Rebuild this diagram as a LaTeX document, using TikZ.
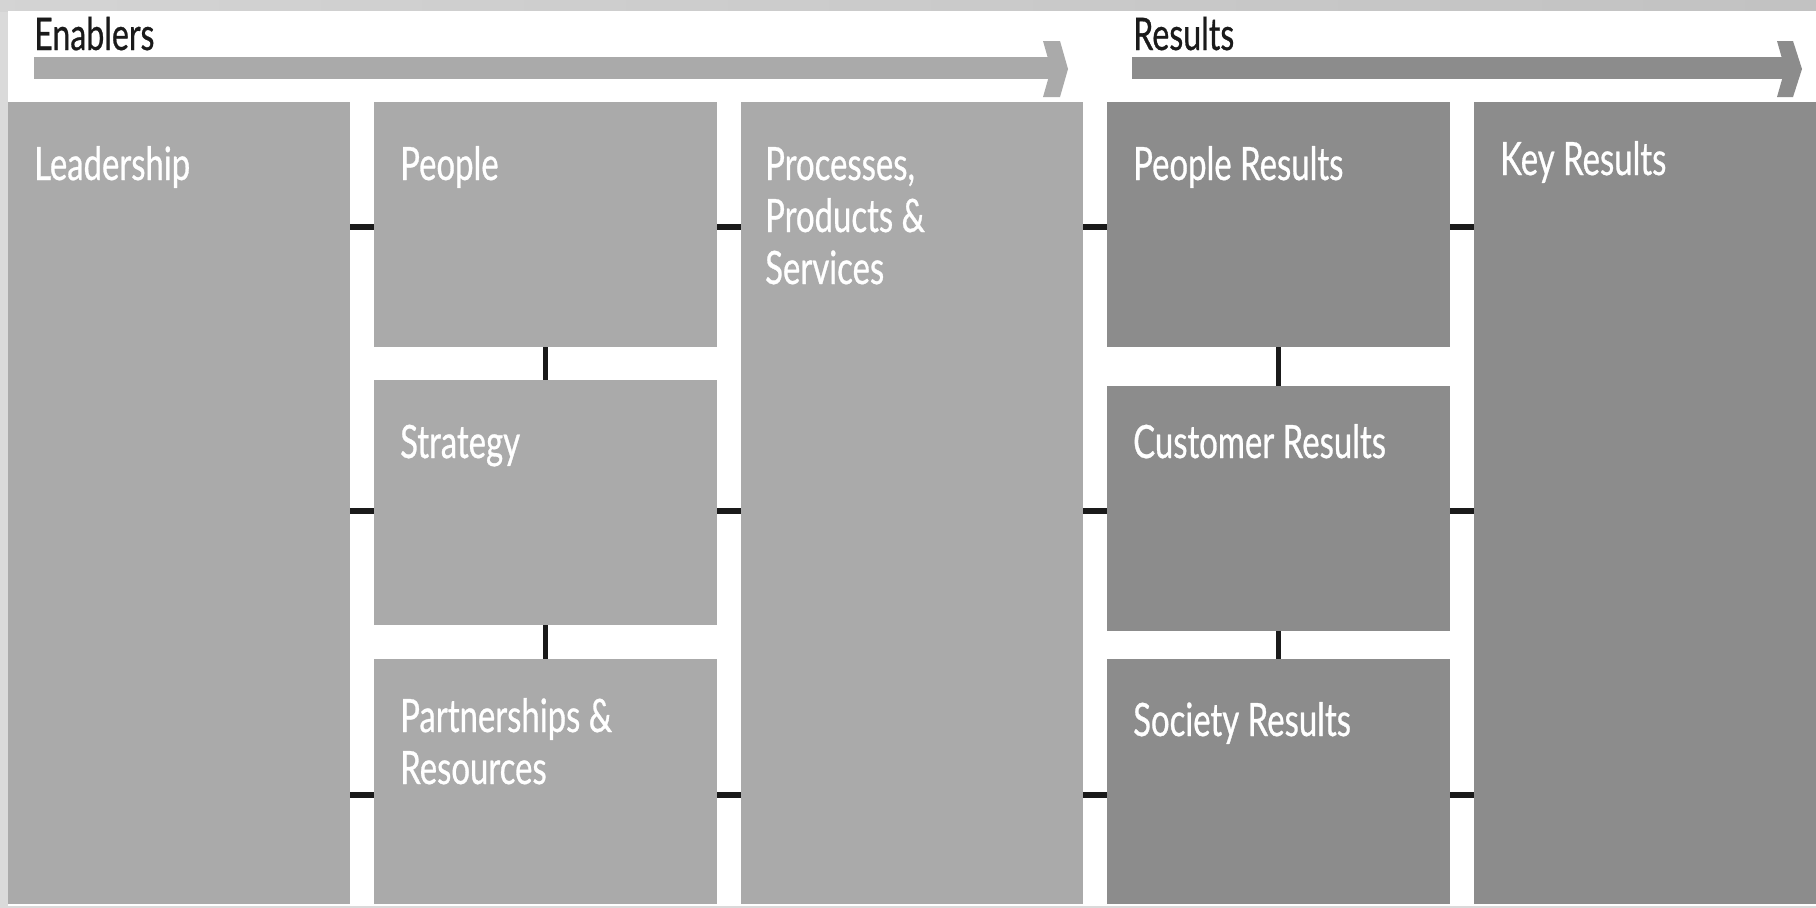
\documentclass[tikz,border=0pt]{standalone}
\usepackage{fontspec}
\newfontfamily\boxfont[FakeStretch=0.715, FakeBold=0.6]{Lato}
\definecolor{enab}{HTML}{AAAAAA}
\definecolor{resc}{HTML}{8C8C8C}
\definecolor{stubc}{HTML}{1A1A1A}
\definecolor{frame}{HTML}{DADADA}
\tikzset{
  ebox/.style={fill=enab, draw=none, anchor=north west, inner sep=0pt},
  rbox/.style={fill=resc, draw=none, anchor=north west, inner sep=0pt},
  boxtext/.style={anchor=base west, inner sep=0pt, text=white, align=left,
    font=\boxfont\fontsize{46}{52}\selectfont},
  headtext/.style={anchor=base west, inner sep=0pt, text=stubc,
    font=\boxfont\fontsize{45}{50}\selectfont},
  hstub/.style={draw=stubc, line width=6pt},
  vstub/.style={draw=stubc, line width=5pt},
}
\begin{document}
\begin{tikzpicture}[x=1pt,y=-1pt]
\useasboundingbox (0,0) rectangle (1816,908);
\fill[frame] (0,0) rectangle (1816,908);
\shade[left color=black!17, right color=black!24] (0,0) rectangle (1816,11);
\fill[white] (8,11) rectangle (1816,906);

% header arrows
\fill[enab] (34,57) rectangle (1054,79);
\fill[enab] (1043,41) -- (1060,41) -- (1068,69) -- (1060,97) -- (1043,97) -- (1051,69) -- cycle;
\fill[resc] (1132,57) rectangle (1788,79);
\fill[resc] (1777,41) -- (1793,41) -- (1802,69) -- (1793,97) -- (1777,97) -- (1785,69) -- cycle;
\node[headtext] (enabT) at (34,50) {Enablers};
\node[headtext] (resT) at (1133,50) {Results};

% boxes
\node[ebox, minimum width=342pt, minimum height=802pt] (lead) at (8,102) {};
\node[ebox, minimum width=343pt, minimum height=245pt] (people) at (374,102) {};
\node[ebox, minimum width=343pt, minimum height=245pt] (strat) at (374,380) {};
\node[ebox, minimum width=343pt, minimum height=245pt] (partn) at (374,659) {};
\node[ebox, minimum width=342pt, minimum height=802pt] (proc) at (741,102) {};
\node[rbox, minimum width=343pt, minimum height=245pt] (pres) at (1107,102) {};
\node[rbox, minimum width=343pt, minimum height=245pt] (cres) at (1107,386) {};
\node[rbox, minimum width=343pt, minimum height=245pt] (sres) at (1107,659) {};
\node[rbox, minimum width=342pt, minimum height=802pt] (key) at (1474,102) {};

% box texts (multi-line nodes are placed by the baseline of their last line)
\node[boxtext] (leadT) at (34,180) {Leadership};
\node[boxtext] (peopleT) at (400,180) {People};
\node[boxtext] (stratT) at (400,458) {Strategy};
\node[boxtext] (partnT) at (400,784) {Partnerships \&\\Resources};
\node[boxtext] (procT) at (765,284) {Processes,\\Products \&\\Services};
\node[boxtext] (presT) at (1133,180) {People Results};
\node[boxtext] (cresT) at (1133,458) {Customer Results};
\node[boxtext] (sresT) at (1133,736) {Society Results};
\node[boxtext] (keyT) at (1500,175) {Key Results};

% row coordinates
\coordinate (r1) at (0,227);
\coordinate (r2) at (0,511);
\coordinate (r3) at (0,795);

% horizontal connectors
\draw[hstub] (lead.east |- r1) -- (people.west |- r1);
\draw[hstub] (people.east |- r1) -- (proc.west |- r1);
\draw[hstub] (proc.east |- r1) -- (pres.west |- r1);
\draw[hstub] (pres.east |- r1) -- (key.west |- r1);
\draw[hstub] (lead.east |- r2) -- (strat.west |- r2);
\draw[hstub] (strat.east |- r2) -- (proc.west |- r2);
\draw[hstub] (proc.east |- r2) -- (cres.west |- r2);
\draw[hstub] (cres.east |- r2) -- (key.west |- r2);
\draw[hstub] (lead.east |- r3) -- (partn.west |- r3);
\draw[hstub] (partn.east |- r3) -- (proc.west |- r3);
\draw[hstub] (proc.east |- r3) -- (sres.west |- r3);
\draw[hstub] (sres.east |- r3) -- (key.west |- r3);

% vertical connectors
\draw[vstub] (people.south) -- (strat.north);
\draw[vstub] (strat.south) -- (partn.north);
\draw[vstub] (pres.south) -- (cres.north);
\draw[vstub] (cres.south) -- (sres.north);
\end{tikzpicture}
\end{document}
